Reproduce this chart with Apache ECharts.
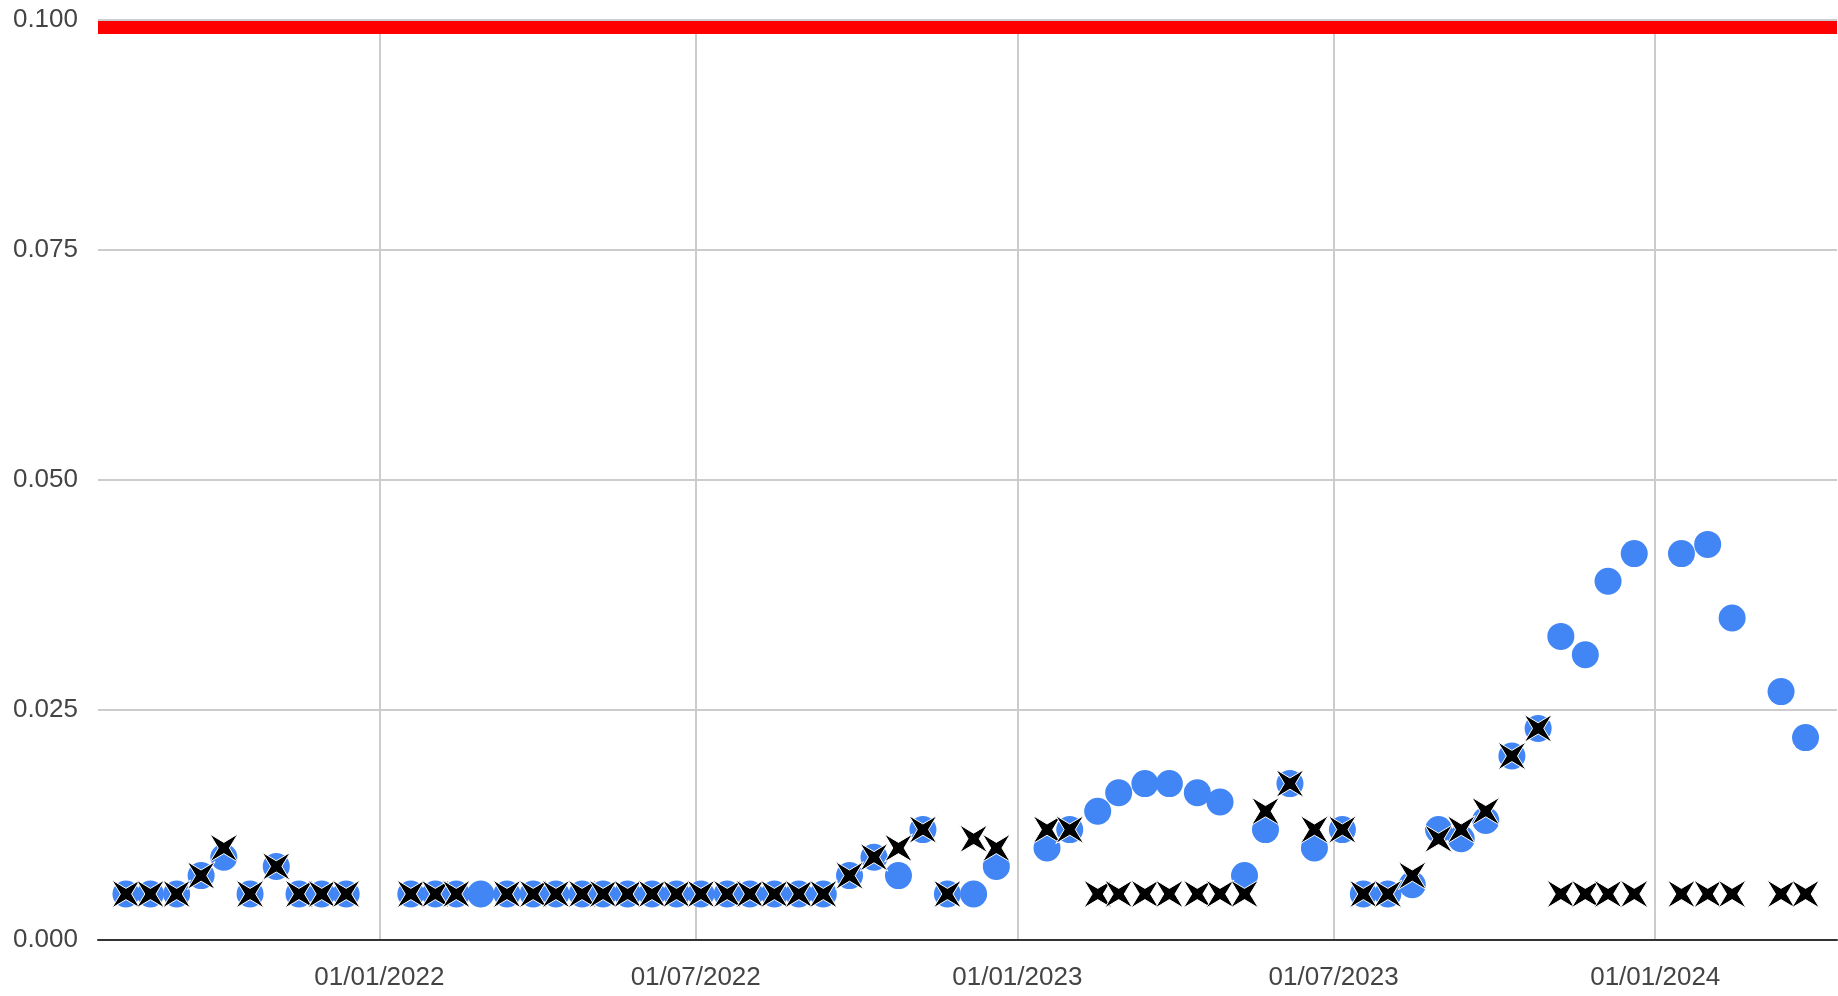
<!DOCTYPE html>
<html>
<head>
<meta charset="utf-8">
<script src="https://cdn.jsdelivr.net/npm/echarts@6/dist/echarts.min.js"></script>
<style>
html,body{margin:0;padding:0;background:#fff;}
#chart{width:1838px;height:996px;}
</style>
</head>
<body>
<div id="chart"></div>
<script>
// ---- data ----
const dates = [
  '2021-08-09','2021-08-23','2021-09-07','2021-09-21','2021-10-04','2021-10-19','2021-11-03','2021-11-16','2021-11-29','2021-12-13',
  '2022-01-19','2022-02-02','2022-02-14','2022-02-28','2022-03-15','2022-03-30','2022-04-12','2022-04-27','2022-05-09','2022-05-23',
  '2022-06-06','2022-06-20','2022-07-04','2022-07-19','2022-08-01','2022-08-15','2022-08-29','2022-09-12','2022-09-27','2022-10-11',
  '2022-10-25','2022-11-08','2022-11-22','2022-12-07','2022-12-20','2023-01-18','2023-01-31','2023-02-16','2023-02-28','2023-03-15',
  '2023-03-29','2023-04-14','2023-04-27','2023-05-11','2023-05-23','2023-06-06','2023-06-20','2023-07-06','2023-07-18','2023-08-01',
  '2023-08-15','2023-08-30','2023-09-12','2023-09-26','2023-10-11','2023-10-26','2023-11-08','2023-11-22','2023-12-05','2023-12-20',
  '2024-01-16','2024-01-31','2024-02-14','2024-03-13','2024-03-27'
];
const blueValues = [
  0.005,0.005,0.005,0.007,0.009,0.005,0.008,0.005,0.005,0.005,
  0.005,0.005,0.005,0.005,0.005,0.005,0.005,0.005,0.005,0.005,
  0.005,0.005,0.005,0.005,0.005,0.005,0.005,0.005,0.007,0.009,
  0.007,0.012,0.005,0.005,0.008,0.010,0.012,0.014,0.016,0.017,
  0.017,0.016,0.015,0.007,0.012,0.017,0.010,0.012,0.005,0.005,
  0.006,0.012,0.011,0.013,0.020,0.023,0.033,0.031,0.039,0.042,
  0.042,0.043,0.035,0.027,0.022
];
const crossValues = [
  0.005,0.005,0.005,0.007,0.010,0.005,0.008,0.005,0.005,0.005,
  0.005,0.005,0.005,null,0.005,0.005,0.005,0.005,0.005,0.005,
  0.005,0.005,0.005,0.005,0.005,0.005,0.005,0.005,0.007,0.009,
  0.010,0.012,0.005,0.011,0.010,0.012,0.012,0.005,0.005,0.005,
  0.005,0.005,0.005,0.005,0.014,0.017,0.012,0.012,0.005,0.005,
  0.007,0.011,0.012,0.014,0.020,0.023,0.005,0.005,0.005,0.005,
  0.005,0.005,0.005,0.005,0.005
];
const xTickDates = ['2022-01-01','2022-07-01','2023-01-01','2023-07-01','2024-01-01'];
const xRange = ['2021-07-24','2024-04-14'];
const yMin = 0, yMax = 0.1, yStep = 0.025;
const threshold = 0.1;

// ---- helpers ----
const ts = s => { const [y, m, d] = s.split('-').map(Number); return new Date(y, m - 1, d).getTime(); };
const pad = n => (n < 10 ? '0' : '') + n;
const fmtDate = v => { const d = new Date(v); return pad(d.getDate()) + '/' + pad(d.getMonth() + 1) + '/' + d.getFullYear(); };

const blueData = dates.map((d, i) => [ts(d), blueValues[i]]).filter(p => p[1] != null);
const crossData = dates.map((d, i) => [ts(d), crossValues[i]]).filter(p => p[1] != null);
const tickVals = xTickDates.map(ts);

const FONT = '"Liberation Sans", Arial, sans-serif';
const starPath = 'path://M0,0 L50,30 L100,0 L70,50 L100,100 L50,70 L0,100 L30,50 Z';

const chart = echarts.init(document.getElementById('chart'), null, { renderer: 'canvas' });
chart.setOption({
  animation: false,
  backgroundColor: '#ffffff',
  grid: { left: 98, right: 1, top: 20, bottom: 56, containLabel: false },
  xAxis: {
    type: 'value',
    scale: true,
    min: ts(xRange[0]),
    max: ts(xRange[1]),
    axisLine: { show: true, onZero: false, lineStyle: { color: '#333333', width: 2 } },
    axisTick: { show: false, customValues: tickVals },
    axisLabel: {
      customValues: tickVals,
      formatter: v => fmtDate(v),
      color: '#444444', fontSize: 26, fontFamily: FONT, margin: 25,
      showMinLabel: true, showMaxLabel: true
    },
    splitLine: { show: true, lineStyle: { color: '#cccccc', width: 2 } }
  },
  yAxis: {
    type: 'value',
    min: yMin, max: yMax, interval: yStep,
    axisLine: { show: false },
    axisTick: { show: false },
    axisLabel: {
      formatter: v => v.toFixed(3),
      color: '#444444', fontSize: 26, fontFamily: FONT, margin: 20
    },
    splitLine: { show: true, lineStyle: { color: '#cccccc', width: 2 } }
  },
  series: [
    {
      type: 'custom',
      z: 1,
      data: [[ts(dates[0]), threshold]],
      renderItem: (params, api) => {
        const cs = params.coordSys;
        const y = api.coord([api.value(0), api.value(1)])[1];
        return { type: 'rect', shape: { x: cs.x, y: y + 1, width: cs.width, height: 13 }, style: { fill: '#ff0000' } };
      }
    },
    {
      type: 'scatter',
      z: 2,
      symbol: 'circle',
      symbolSize: 27,
      itemStyle: { color: '#4285f4', opacity: 1 },
      data: blueData
    },
    {
      type: 'scatter',
      z: 3,
      symbol: starPath,
      symbolSize: 28,
      itemStyle: { color: '#000000', borderColor: '#ffffff', borderWidth: 1, opacity: 1 },
      data: crossData
    }
  ]
});
</script>
</body>
</html>
